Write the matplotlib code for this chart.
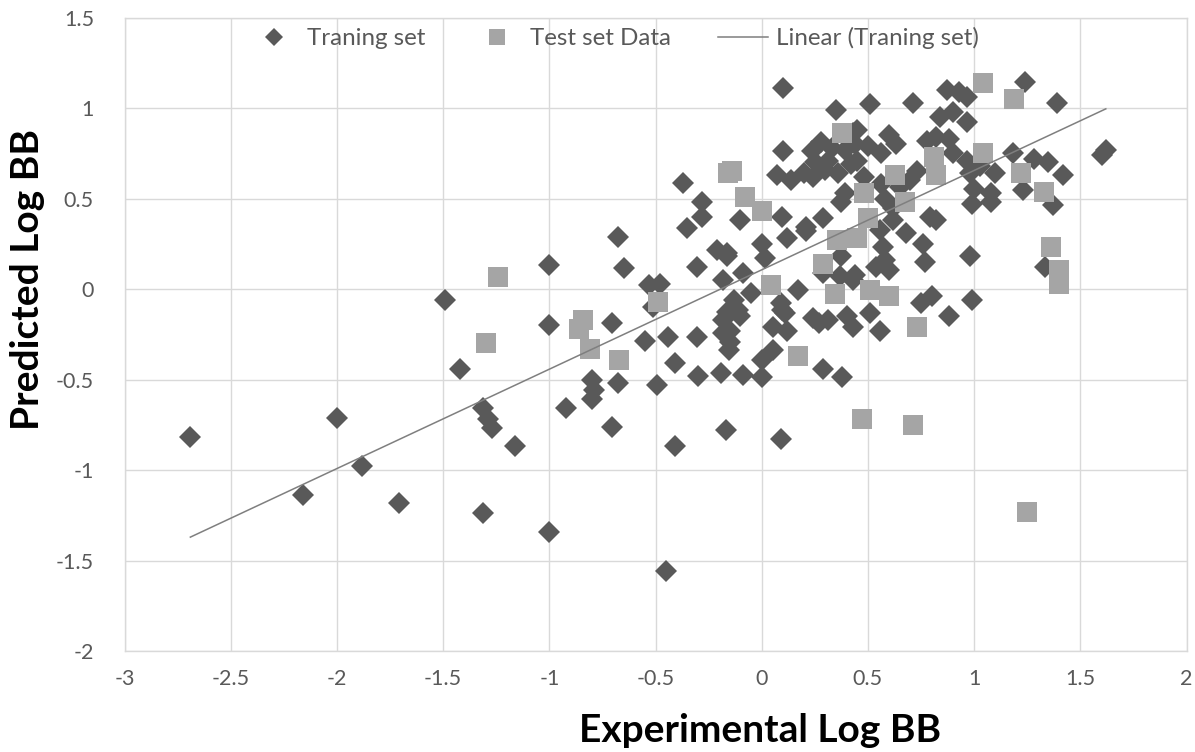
import numpy as np
import matplotlib
matplotlib.use("Agg")
import matplotlib.pyplot as plt
from matplotlib.lines import Line2D

# ---------------- data ----------------
train_x = [
    -2.69, -2.16, -2.00, -1.88, -1.71, -1.49, -1.42, -1.31, -1.29, -1.27,
    -1.16, -1.31, -1.00, -1.00, -1.00, -0.92, -0.45,
    -0.80, -0.79, -0.80, -0.706, -0.706, -0.675, -0.675, -0.647, -0.55,
    -0.53, -0.48, -0.51, -0.495, -0.44, -0.41, -0.41, -0.372, -0.306, -0.30,
    -0.353, -0.283, -0.283, -0.306, -0.21, -0.165, -0.18, -0.19, -0.17,
    -0.18, -0.15, -0.155, -0.165, -0.10, -0.13, -0.087, -0.10, -0.09,
    -0.05, -0.11, -0.18, -0.15, -0.165,
    0.00, 0.00, 0.055, 0.09, 0.09, 0.11, 0.055, 0.12, 0.094, 0.17, 0.27,
    0.31, 0.24, 0.29, 0.377, 0.40, 0.43, 0.00, 0.12, 0.21, 0.016, 0.29,
    0.37, 0.44, 0.094, 0.21, 0.29,
    0.10, 0.35, 0.10, 0.07, 0.14, 0.20, 0.24, 0.235, 0.28, 0.31, 0.36,
    0.39, 0.43, 0.45, 0.39, 0.375, 0.42, 0.56, 0.45, 0.51, 0.60, 0.71,
    0.87, 0.965, 0.93, 0.84, 0.965, 0.82, 0.78, 0.90, 0.73, 0.70, 0.65,
    0.56, 1.03, 1.10, 1.00, 1.08, 0.965, 0.98, 1.185, 1.28, 1.35, 1.42,
    1.23, 1.37, 1.24, 1.39, 1.60, 1.62, 0.50,
    0.79, 0.82, 0.68, 0.76, 0.77, 0.98, 0.99, 1.08, 0.54, 0.60, 0.57,
    0.556, 0.62, 0.43, 0.375, 0.80, 0.75, 0.88, 0.99, 0.51, 0.556, 1.335,
    0.58,
    0.33, 0.30, 0.44, 0.48, 0.25, 0.90, 0.88, 0.58, 0.62, 0.63,
]
train_y = [
    -0.82, -1.14, -0.71, -0.98, -1.18, -0.06, -0.44, -0.66, -0.72, -0.77,
    -0.87, -1.24, 0.13, -0.20, -1.34, -0.66, -1.56,
    -0.50, -0.56, -0.61, -0.19, -0.76, -0.52, 0.29, 0.114, -0.287,
    0.02, 0.03, -0.10, -0.53, -0.267, -0.41, -0.87, 0.587, -0.267, -0.48,
    0.335, 0.48, 0.40, 0.123, 0.215, 0.18, 0.05, -0.466, -0.78,
    -0.245, -0.29, -0.337, -0.125, -0.15, -0.06, -0.475, 0.38, 0.087,
    -0.024, -0.116, -0.17, -0.23, 0.20,
    -0.485, -0.39, -0.337, -0.83, -0.08, -0.135, -0.21, -0.23, -0.116, -0.005, -0.19,
    -0.17, -0.16, -0.44, -0.485, -0.15, -0.21, 0.25, 0.28, 0.32, 0.17, 0.087,
    0.07, 0.077, 0.40, 0.34, 0.39,
    1.11, 0.99, 0.76, 0.63, 0.60, 0.64, 0.62, 0.76, 0.81, 0.71, 0.64,
    0.77, 0.86, 0.71, 0.53, 0.48, 0.69, 0.75, 0.88, 1.02, 0.85, 1.03,
    1.10, 1.06, 1.09, 0.95, 0.92, 0.84, 0.82, 0.75, 0.65, 0.60, 0.565,
    0.58, 0.68, 0.64, 0.55, 0.53, 0.71, 0.64, 0.75, 0.72, 0.70, 0.63,
    0.547, 0.464, 1.145, 1.03, 0.74, 0.77, 0.79,
    0.40, 0.38, 0.31, 0.25, 0.15, 0.18, 0.47, 0.48, 0.12, 0.105, 0.23,
    0.326, 0.38, 0.05, 0.18, -0.04, -0.08, -0.15, -0.06, -0.134, -0.23, 0.123,
    0.16,
    0.78, 0.66, 0.80, 0.62, 0.70, 0.98, 0.83, 0.50, 0.45, 0.80,
]

test_x = [
    -1.30, -1.24, -0.86, -0.84, -0.81, -0.67, -0.487, -0.157, -0.14, -0.078,
    0.00, 0.046, 0.17, 0.29, 0.345, 0.353, 0.38, 0.47, 0.45, 0.50, 0.48,
    0.51, 0.60, 0.627, 0.675, 0.71, 0.73, 0.81, 0.82, 1.04, 1.04, 1.19,
    1.22, 1.33, 1.36, 1.40, 1.40, 1.25,
]
test_y = [
    -0.30, 0.065, -0.22, -0.17, -0.33, -0.39, -0.07, 0.64, 0.65, 0.51,
    0.43, 0.02, -0.37, 0.14, -0.03, 0.27, 0.86, -0.72, 0.28, 0.39, 0.53,
    -0.005, -0.04, 0.63, 0.48, -0.75, -0.21, 0.73, 0.63, 1.14, 0.75, 1.05,
    0.64, 0.534, 0.234, 0.105, 0.03, -1.234,
]

# Excel linear trendline of the training set
trend_slope = 0.549
trend_intercept = 0.106

x_ticks = [-3, -2.5, -2, -1.5, -1, -0.5, 0, 0.5, 1, 1.5, 2]
y_ticks = [-2, -1.5, -1, -0.5, 0, 0.5, 1, 1.5]
legend_labels = ["Traning set", "Test set Data", "Linear (Traning set)"]
x_title = "Experimental Log BB"
y_title = "Predicted Log BB"

# ---------------- style ----------------
FONT = ["Lato", "DejaVu Sans"]
plt.rcParams["font.family"] = FONT
DARK = "#595959"
LIGHT = "#a5a5a5"
GRID = "#d9d9d9"
TEXT = "#595959"

fig = plt.figure(figsize=(11.95, 7.52), dpi=100)
ax = fig.add_axes([0.1042, 0.1343, 0.8887, 0.8424])

ax.plot(train_x, train_y, linestyle="none", marker="D", markersize=11.2,
        color=DARK, markeredgewidth=0, zorder=3)
ax.plot(test_x, test_y, linestyle="none", marker="s", markersize=15,
        color=LIGHT, markeredgewidth=0, zorder=4)

xs = np.array([min(train_x), max(train_x)])
ax.plot(xs, trend_intercept + trend_slope * xs, color="#7f7f7f",
        linewidth=1.1, zorder=5)

ax.set_xlim(-3, 2)
ax.set_ylim(-2, 1.5)
ax.set_xticks(x_ticks)
ax.set_yticks(y_ticks)
ax.set_xticklabels([f"{t:g}" for t in x_ticks])
ax.set_yticklabels([f"{t:g}" for t in y_ticks])
ax.tick_params(axis="both", length=0, labelsize=15.5, colors=TEXT)
ax.tick_params(axis="x", pad=13)
ax.tick_params(axis="y", pad=22)
ax.grid(True, color=GRID, linewidth=1)
ax.set_axisbelow(True)
for s in ax.spines.values():
    s.set_color(GRID)
    s.set_linewidth(1)

ax.set_xlabel(x_title, fontsize=28, fontweight="bold", color="black")
ax.xaxis.label.set_va("center")
ax.xaxis.set_label_coords(0.598, -0.1247)
ax.set_ylabel(y_title, fontsize=28, fontweight="bold", color="black")
ax.yaxis.label.set_va("center")
ax.yaxis.set_label_coords(-0.0909, 0.586)

handles = [
    Line2D([], [], linestyle="none", marker="D", markersize=9, color=DARK, markeredgewidth=0),
    Line2D([], [], linestyle="none", marker="s", markersize=11, color=LIGHT, markeredgewidth=0),
    Line2D([], [], color="#7f7f7f", linewidth=1.1),
]
fig.legend(handles, legend_labels, loc="center left", bbox_to_anchor=(237 / 1195, 0.949),
           ncol=3, frameon=False, fontsize=17.4, labelcolor=TEXT, borderpad=0,
           handlelength=2.07, handletextpad=0.33, columnspacing=1.94)

fig.savefig("out.png", dpi=100)
